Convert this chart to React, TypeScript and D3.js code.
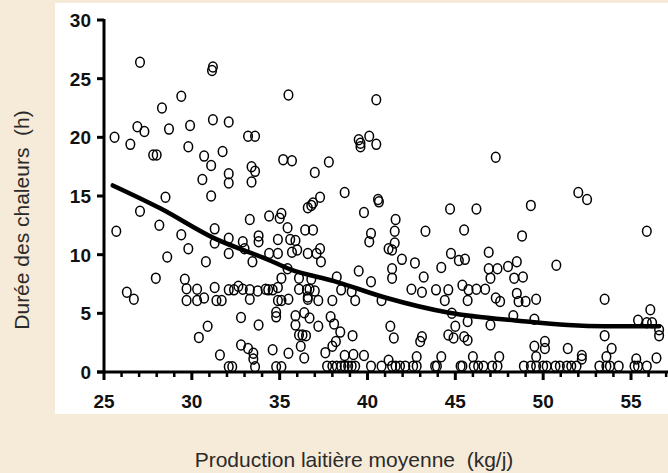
import React from "react";
import * as d3 from "d3";

const xTicks = [25, 30, 35, 40, 45, 50, 55];
const yTicks = [0, 5, 10, 15, 20, 25, 30];

const pointsX = [
  25.6, 26.5, 27.05, 26.9, 27.3, 27.8, 28.0, 28.3, 28.7, 29.4, 29.9, 29.8, 30.7, 31.1, 30.6, 31.2, 31.15, 31.2, 31.75, 32.1,
  32.1, 32.1, 31.1, 28.5, 27.05, 25.7, 28.15, 29.4, 31.3, 33.2, 33.6, 33.4, 33.6, 33.4, 33.3, 34.4, 35.1, 35.0, 35.45, 35.5,
  35.2, 35.7, 37.0, 37.3, 36.6, 36.8, 36.9, 37.8, 36.45, 36.9, 40.5, 39.5, 39.6, 39.6, 40.1, 40.5, 47.3, 38.7, 40.6, 40.65,
  39.8, 41.6, 41.55, 40.2, 43.3, 44.7, 46.2, 45.5, 49.3, 48.8, 52.0, 52.5, 55.9,
  41.55, 41.4, 44.75, 45.2, 45.55, 46.9, 41.96, 42.7, 44.2, 41.4, 41.4, 43.2, 46.9, 47.4, 48.0, 48.5, 48.35, 48.85, 47.0,
  42.5, 43.1, 43.9, 44.6, 45.4, 45.75, 46.2, 46.7, 44.4, 45.7, 47.3, 47.55, 48.5, 48.6, 49.0, 49.6, 50.75, 53.5, 56.1,
  33.8, 33.8, 34.9, 35.6, 35.9, 40.1, 33.0, 34.4, 34.9, 35.7, 36.0, 36.6, 37.1, 37.3, 37.35, 33.45, 35.45, 39.5, 41.2, 40.2,
  35.1, 36.1, 36.8, 38.25, 33.3, 33.75, 34.2, 34.35, 34.6, 34.9, 36.1, 36.55, 36.7, 37.0, 38.5, 39.1, 33.3, 34.9, 35.1, 35.5,
  36.6, 36.6, 37.2, 38.0, 39.3, 40.8, 29.8, 28.6, 30.8, 31.3, 32.1, 32.1, 32.9, 27.95, 26.3, 26.7, 29.6, 29.7, 29.7, 30.3,
  30.3, 30.7, 31.3, 31.4, 31.7, 32.1, 32.4, 32.65, 32.9,
  32.8, 30.9, 30.4, 32.8, 33.2, 31.6, 34.8, 34.8, 35.9, 36.4, 36.7, 37.2, 37.9, 38.1, 35.9, 33.8, 36.1, 36.3, 36.5, 38.45,
  39.15, 41.3, 41.5, 33.5, 34.6, 36.2, 38.2, 38.0, 37.6, 35.5, 36.4, 38.7, 39.2, 39.8, 41.2, 33.5, 43.1, 43.0, 44.6, 44.9,
  45.5, 45.7, 49.5, 42.8, 44.2, 46.0, 47.5, 49.6, 48.3, 49.5, 44.8, 45.0, 45.7, 47.0, 55.4, 55.9, 56.2, 56.6, 56.6, 53.5,
  50.1, 50.1, 51.4, 53.9, 52.2, 52.2, 53.6, 55.3, 56.45,
  32.1, 32.3, 33.6, 34.8, 35.1, 37.7, 38.0, 38.25, 38.5, 38.7, 38.9, 39.1, 39.3, 40.2, 40.8, 41.4, 41.6, 41.85, 42.15, 42.6,
  42.8, 43.85, 43.95, 45.3, 45.4, 46.05, 46.3, 46.6, 47.1, 47.4, 48.9, 49.3, 49.6, 50.0, 50.2, 50.7, 50.95, 51.35, 51.6, 51.9,
  53.2, 53.6, 53.8, 54.3, 55.2, 55.4, 55.9,
];

const pointsY = [
  20.0, 19.4, 26.4, 20.9, 20.5, 18.5, 18.5, 22.5, 20.7, 23.5, 21.0, 19.2, 18.4, 17.6, 16.4, 26.0, 25.7, 21.5, 18.8, 21.3,
  16.9, 16.1, 15.0, 14.9, 13.7, 12.0, 12.5, 11.7, 12.2, 20.1, 20.1, 17.5, 17.1, 16.2, 13.0, 13.3, 13.5, 13.1, 12.3, 23.6,
  18.1, 18.0, 17.0, 14.9, 14.0, 14.2, 14.4, 17.9, 12.1, 12.1, 23.2, 19.8, 19.5, 19.2, 20.1, 19.4, 18.3, 15.3, 14.7, 14.5,
  13.6, 13.0, 12.0, 11.8, 12.0, 13.9, 13.9, 12.1, 14.2, 11.6, 15.3, 14.7, 12.0,
  11.0, 10.4, 10.1, 9.5, 9.6, 10.2, 9.6, 9.3, 8.9, 8.8, 8.0, 8.1, 8.8, 8.8, 9.0, 9.4, 8.0, 8.1, 8.0,
  7.05, 6.8, 7.0, 7.0, 7.4, 7.0, 7.05, 7.05, 6.1, 6.1, 6.3, 6.0, 6.7, 6.0, 6.0, 6.2, 9.1, 6.2, 5.3,
  11.6, 11.1, 11.3, 11.3, 11.2, 11.1, 10.5, 10.1, 10.1, 10.2, 10.4, 10.1, 10.1, 10.5, 9.4, 9.4, 8.8, 8.6, 10.5, 7.7,
  8.0, 8.0, 7.9, 8.1, 7.0, 6.9, 7.05, 7.0, 7.0, 7.2, 7.05, 7.0, 7.05, 6.9, 7.0, 6.85, 6.2, 6.1, 6.1, 6.2,
  6.4, 6.2, 6.1, 6.1, 6.1, 6.1, 10.5, 9.8, 9.4, 11.0, 11.4, 10.1, 11.1, 8.0, 6.8, 6.2, 7.9, 7.1, 6.1, 7.05,
  6.1, 6.3, 7.2, 6.1, 6.1, 7.0, 7.0, 7.3, 7.05,
  4.65, 3.9, 2.95, 2.3, 2.0, 1.45, 5.1, 4.7, 4.8, 5.05, 4.6, 3.9, 4.7, 4.1, 4.0, 4.0, 3.15, 3.15, 3.1, 3.4,
  3.1, 3.9, 2.9, 1.6, 1.9, 2.2, 2.6, 2.2, 1.65, 1.6, 1.2, 1.4, 1.5, 1.4, 1.0, 1.1, 3.0, 2.6, 3.15, 2.9,
  3.0, 2.7, 2.2, 1.3, 1.3, 1.3, 1.3, 1.3, 4.8, 4.5, 5.0, 3.9, 4.3, 4.0, 4.4, 4.2, 4.2, 3.6, 3.1, 3.1,
  2.6, 2.0, 2.0, 2.0, 1.4, 1.1, 1.3, 1.1, 1.2,
  0.45, 0.45, 0.45, 0.45, 0.45, 0.5, 0.5, 0.5, 0.5, 0.5, 0.5, 0.5, 0.5, 0.5, 0.5, 0.5, 0.5, 0.5, 0.5, 0.5,
  0.5, 0.5, 0.5, 0.5, 0.5, 0.5, 0.5, 0.5, 0.5, 0.5, 0.5, 0.5, 0.5, 0.5, 0.5, 0.5, 0.5, 0.5, 0.5, 0.5,
  0.5, 0.5, 0.5, 0.5, 0.5, 0.5, 0.5,
];

const curveX = [25.5, 28.2, 31.2, 34.3, 35.6, 38.1, 41.0, 44.65, 48.7, 51.4, 53.5, 56.6];
const curveY = [15.9, 13.95, 11.45, 9.6, 8.75, 7.75, 6.35, 5.05, 4.35, 4.0, 3.9, 3.9];

const W = 668;
const H = 473;

export default function App() {
  const x = d3.scaleLinear().domain([25, 55]).range([104, 631]);
  const y = d3.scaleLinear().domain([0, 30]).range([372, 20]);
  const minor = d3.range(25, 58, 1);
  const pts = pointsX.map((v, i) => [v, pointsY[i]] as [number, number]);
  const line = d3
    .line<number>()
    .x((d, i) => x(curveX[i]))
    .y((d) => y(d))
    .curve(d3.curveMonotoneX);
  const font = "'Liberation Sans', Arial, sans-serif";
  return (
    <svg
      width={W}
      height={H}
      style={{ position: "absolute", left: 0, top: 0, display: "block" }}
    >
      <rect x={0} y={0} width={W} height={H} fill="#f6ead8" />
      <rect x={55} y={3} width={W - 55} height={411} fill="#ffffff" />
      {pts.map((p, i) => (
        <ellipse
          key={i}
          cx={x(p[0])}
          cy={y(p[1])}
          rx={4.3}
          ry={5}
          fill="none"
          stroke="#000"
          strokeWidth={1.5}
        />
      ))}
      <path d={line(curveY) || ""} fill="none" stroke="#000" strokeWidth={4.5} strokeLinecap="round" />
      {/* y axis */}
      <line x1={104} x2={104} y1={y(30) - 1} y2={y(0) + 1} stroke="#000" strokeWidth={3} />
      {yTicks.map((t) => (
        <g key={t}>
          <line x1={97} x2={104} y1={y(t)} y2={y(t)} stroke="#000" strokeWidth={3} />
          <text
            x={91}
            y={y(t)}
            dy="0.36em"
            textAnchor="end"
            fontFamily={font}
            fontWeight="bold"
            fontSize={19}
            fill="#111"
          >
            {t}
          </text>
        </g>
      ))}
      {/* x axis */}
      <line x1={97} x2={W} y1={y(0)} y2={y(0)} stroke="#000" strokeWidth={3} />
      {minor.map((t) => (
        <line
          key={t}
          x1={x(t)}
          x2={x(t)}
          y1={y(0)}
          y2={y(0) + (t % 5 === 0 ? 8 : 5)}
          stroke="#000"
          strokeWidth={t % 5 === 0 ? 3 : 2.5}
        />
      ))}
      {xTicks.map((t) => (
        <text
          key={t}
          x={x(t)}
          y={408}
          textAnchor="middle"
          fontFamily={font}
          fontWeight="bold"
          fontSize={19}
          fill="#111"
        >
          {t}
        </text>
      ))}
      <text
        x={354}
        y={467}
        textAnchor="middle"
        fontFamily={font}
        fontSize={21}
        fill="#2a2a2a"
        style={{ whiteSpace: "pre" }}
      >
        Production laitière moyenne  (kg/j)
      </text>
      <text
        transform={`translate(29,220) rotate(-90)`}
        textAnchor="middle"
        fontFamily={font}
        fontSize={21}
        fill="#2a2a2a"
        style={{ whiteSpace: "pre" }}
      >
        Durée des chaleurs  (h)
      </text>
    </svg>
  );
}
